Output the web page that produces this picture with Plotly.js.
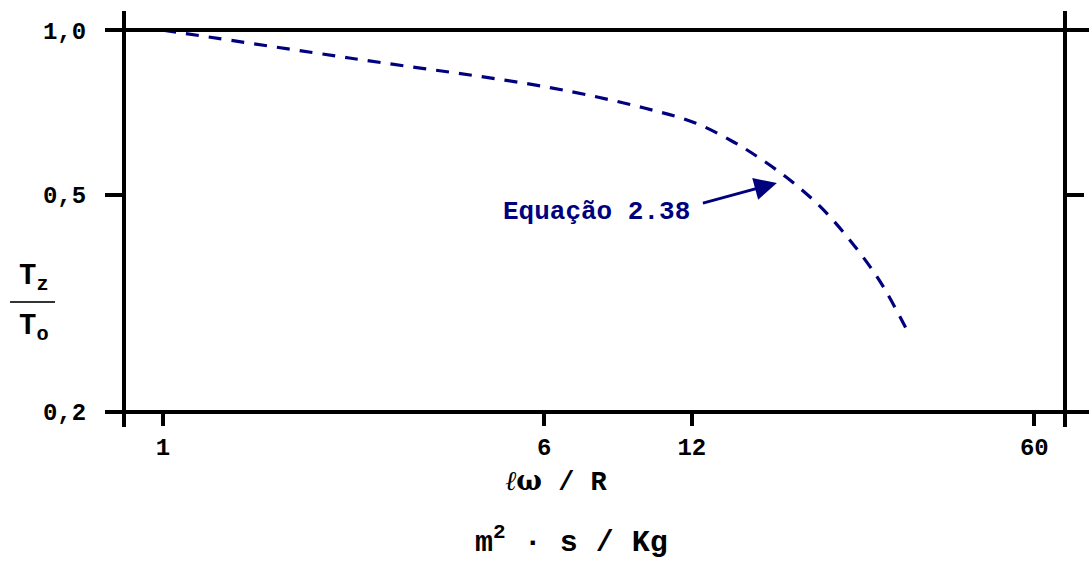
<!DOCTYPE html>
<html>
<head>
<meta charset="utf-8">
<script src="https://cdn.plot.ly/plotly-3.0.1.min.js"></script>
<style>
  html, body { margin: 0; padding: 0; background: #fff; }
  #chart { width: 1089px; height: 562px; }
</style>
</head>
<body>
<div id="chart"></div>
<script>
// Ratio Tz/To against lω/R (log–log), curve from Equação 2.38
const lwR   = [1, 2.4, 6.05, 9.6, 12.2, 14.6, 16.5, 19.0, 21.9, 25.2, 29.1, 33.2];
const ratio = [1.0, 0.889, 0.787, 0.72, 0.676, 0.624, 0.583, 0.532, 0.476, 0.413, 0.346, 0.279];

const xTickVals = [1, 6, 12, 60];
const xTickText = ['1', '6', '12', '60'];
const yTickVals = [0.2, 0.5, 1.0];
const yTickText = ['0,2', '0,5', '1,0'];

const curveLabel = 'Equação 2.38';
const navy = '#00007f';
const mono = 'Liberation Mono, Courier New, monospace';

const trace = {
  x: lwR,
  y: ratio,
  type: 'scatter',
  mode: 'lines',
  line: { color: navy, width: 3.2, dash: '13px,10px', shape: 'spline', smoothing: 1 },
  hoverinfo: 'skip',
  showlegend: false
};

// frame lines overhanging the corners
const frame = { color: '#000', width: 4 };
const shapes = [
  { type: 'line', xref: 'paper', yref: 'paper', x0: -0.02, x1: 1.03, y0: 1, y1: 1, line: frame },
  { type: 'line', xref: 'paper', yref: 'paper', x0: -0.02, x1: 1.03, y0: 0, y1: 0, line: frame },
  { type: 'line', xref: 'paper', yref: 'paper', x0: 0, x1: 0, y0: -0.039, y1: 1.05, line: frame },
  { type: 'line', xref: 'paper', yref: 'paper', x0: 1, x1: 1, y0: -0.039, y1: 1.05, line: frame },
  // fraction bar of the y label
  { type: 'line', xref: 'paper', yref: 'paper', x0: -0.1211, x1: -0.0733, y0: 0.288, y1: 0.288,
    line: { color: '#333', width: 2 } }
];

const titleFont = { family: mono, size: 29, color: '#000', weight: 'bold' };

const annotations = [
  { xref: 'x', yref: 'y', x: Math.log10(12), y: Math.log10(0.4645), xanchor: 'right', yanchor: 'middle',
    text: curveLabel, showarrow: false,
    font: { family: mono, size: 26, color: navy, weight: 'bold' } },
  { xref: 'x', yref: 'y', x: Math.log10(17.9), y: Math.log10(0.525), text: ' ',
    showarrow: true, ax: -77, ay: 21, arrowhead: 2, arrowsize: 1.5, arrowwidth: 3, arrowcolor: navy },
  { xref: 'paper', yref: 'paper', x: (556 - 124) / 941, y: (412 - 481) / 382, xanchor: 'center', yanchor: 'middle',
    showarrow: false, font: { family: mono, size: 27, color: '#000', weight: 'bold' },
    text: '<span style="font-family:DejaVu Serif;font-style:italic;font-weight:normal">ℓ</span><span style="font-family:DejaVu Serif">ω</span> / R' },
  { xref: 'paper', yref: 'paper', x: (571 - 124) / 941, y: (412 - 540) / 382, xanchor: 'center', yanchor: 'middle',
    showarrow: false, font: { family: mono, size: 30, color: '#000', weight: 'bold' },
    text: 'm<sup>2</sup> · s / Kg' },
  { xref: 'paper', yref: 'paper', x: (34 - 124) / 941, y: (412 - 278) / 382, xanchor: 'center', yanchor: 'middle',
    showarrow: false, font: titleFont, text: 'T<sub>z</sub>' },
  { xref: 'paper', yref: 'paper', x: (34 - 124) / 941, y: (412 - 328) / 382, xanchor: 'center', yanchor: 'middle',
    showarrow: false, font: titleFont, text: 'T<sub>o</sub>' }
];

const tickFont = { family: mono, size: 24, color: '#000', weight: 'bold' };

const layout = {
  width: 1089,
  height: 562,
  margin: { l: 124, r: 24, t: 30, b: 150 },
  paper_bgcolor: '#fff',
  plot_bgcolor: '#fff',
  showlegend: false,
  xaxis: {
    type: 'log',
    range: [-0.0796, 1.8408],
    tickmode: 'array', tickvals: xTickVals, ticktext: xTickText,
    ticks: 'outside', ticklen: 13, tickwidth: 4, tickcolor: '#000',
    showgrid: false, zeroline: false, showline: false,
    tickfont: tickFont, ticklabelstandoff: 0
  },
  xaxis2: {
    type: 'log',
    overlaying: 'x', side: 'top', matches: 'x',
    range: [-0.0796, 1.8408],
    tickmode: 'array', tickvals: xTickVals,
    ticks: 'outside', ticklen: 19, tickwidth: 4, tickcolor: '#000',
    showticklabels: false, showgrid: false, zeroline: false, showline: false
  },
  yaxis: {
    type: 'log',
    range: [Math.log10(0.2) - 0.0002, 0.0002],
    tickmode: 'array', tickvals: yTickVals, ticktext: yTickText,
    ticks: 'outside', ticklen: 18, tickwidth: 4, tickcolor: '#000', mirror: 'ticks',
    showgrid: false, zeroline: false, showline: false,
    tickfont: tickFont, ticklabelstandoff: 14
  },
  shapes: shapes,
  annotations: annotations
};

Plotly.newPlot('chart', [trace], layout, { displayModeBar: false, staticPlot: true });
</script>
</body>
</html>
